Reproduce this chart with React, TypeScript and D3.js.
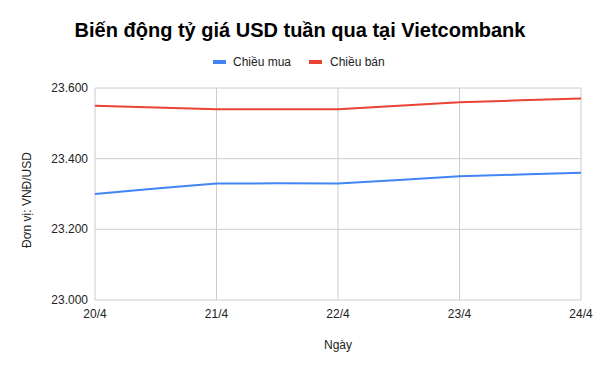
import React from "react";
import * as d3 from "d3";

const dates = ["20/4", "21/4", "22/4", "23/4", "24/4"];
const buyValues = [23300, 23330, 23330, 23350, 23360];
const sellValues = [23550, 23540, 23540, 23560, 23570];
const yTicks = [23000, 23200, 23400, 23600];
const seriesNames = ["Chiều mua", "Chiều bán"];
const seriesColors = ["#4285F4", "#EA4335"];

const W = 600, H = 371;
const M = { left: 95, right: 19, top: 88, bottom: 71 };

export default function App() {
  const x = d3.scalePoint<string>().domain(dates).range([M.left, W - M.right]);
  const y = d3.scaleLinear().domain([23000, 23600]).range([H - M.bottom, M.top]);
  const fmt = (v: number) => d3.format(",")(v).replace(/,/g, ".");
  const line = d3
    .line<number>()
    .x((_, i) => x(dates[i]) as number)
    .y((d) => y(d))
    .curve(d3.curveCardinal.tension(0.85));
  const series = [buyValues, sellValues];
  const font = "Arial, 'Liberation Sans', sans-serif";
  return (
    <svg width={W} height={H} style={{ position: "absolute", left: 0, top: 0, background: "#fff" }} fontFamily={font}>
      <rect x={0} y={0} width={W} height={H} fill="#fff" />
      <text x={300} y={37} textAnchor="middle" fontSize={20} fontWeight="bold" fill="#000">
        Biến động tỷ giá USD tuần qua tại Vietcombank
      </text>
      {/* legend */}
      <g>
        <rect x={213} y={60} width={13} height={4} fill={seriesColors[0]} />
        <text x={233} y={66} fontSize={12} fill="#222">{seriesNames[0]}</text>
        <rect x={309} y={60} width={13} height={4} fill={seriesColors[1]} />
        <text x={330} y={66} fontSize={12} fill="#222">{seriesNames[1]}</text>
      </g>
      {/* grid */}
      {yTicks.map((t) => (
        <line key={"gy" + t} x1={M.left} x2={W - M.right} y1={y(t)} y2={y(t)} stroke="#cccccc" strokeWidth={1} />
      ))}
      {dates.map((d) => (
        <line key={"gx" + d} x1={x(d)} x2={x(d)} y1={M.top} y2={H - M.bottom} stroke="#cccccc" strokeWidth={1} />
      ))}
      {yTicks.map((t) => (
        <text key={"ty" + t} x={88} y={y(t) + 4} textAnchor="end" fontSize={12} fill="#222">
          {fmt(t)}
        </text>
      ))}
      {dates.map((d) => (
        <text key={"tx" + d} x={x(d)} y={318} textAnchor="middle" fontSize={12} fill="#222">
          {d}
        </text>
      ))}
      <text x={338} y={349} textAnchor="middle" fontSize={12} fill="#222">Ngày</text>
      <text transform={`translate(31,200) rotate(-90)`} textAnchor="middle" fontSize={12} fill="#222">
        Đơn vị: VNĐ/USD
      </text>
      {series.map((s, i) => (
        <path key={"s" + i} d={line(s) || ""} fill="none" stroke={seriesColors[i]} strokeWidth={2} />
      ))}
    </svg>
  );
}
